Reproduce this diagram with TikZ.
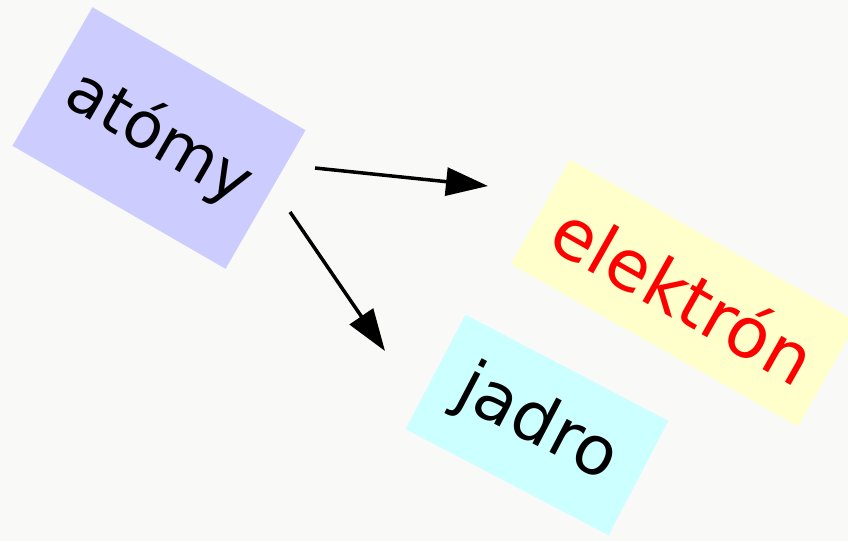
\documentclass[tikz,border=0pt]{standalone}
\usepackage{fontspec}
\setmainfont{DejaVu Sans}
\usetikzlibrary{arrows.meta}
\definecolor{paper}{HTML}{F9F9F7}
\definecolor{lavender}{HTML}{CCCCFF}
\definecolor{paleyellow}{HTML}{FFFFCC}
\definecolor{palecyan}{HTML}{CCFFFF}

\begin{document}
\begin{tikzpicture}[
    x=1pt, y=-1pt,
    word/.style={rectangle, draw=none, inner sep=0pt, text centered,
        font=\fontsize{64}{70}\selectfont, text=black},
    link/.style={line width=3.5pt, -{Triangle[length=42pt, width=28pt]}},
    % frame/.style={rectangle, draw=black, inner sep=0pt},
]
\fill[paper] (0,0) rectangle (848,541);
\useasboundingbox (0,0) rectangle (848,541);

\node (Atom) [word, fill=lavender, rotate=-30, minimum width=246pt, minimum height=160pt]
    at (159,138) {atómy};
\node (Elec) [word, fill=paleyellow, rotate=-29.5, minimum width=330pt, minimum height=120pt,
    text=red, font=\fontsize{70}{76}\selectfont]
    at (684,293) {elektrón};
\node (Nucl) [word, fill=palecyan, rotate=-27.6, minimum width=229pt, minimum height=129pt,
    font=\fontsize{68}{74}\selectfont]
    at (537,425) {jadro};

\coordinate (L1s) at (315,168);
\coordinate (L1e) at (488,186);
\coordinate (L2s) at (290,212);
\coordinate (L2e) at (385,351);

\draw[link] (L1s) -- (L1e);
\draw[link] (L2s) -- (L2e);
\end{tikzpicture}
\end{document}
